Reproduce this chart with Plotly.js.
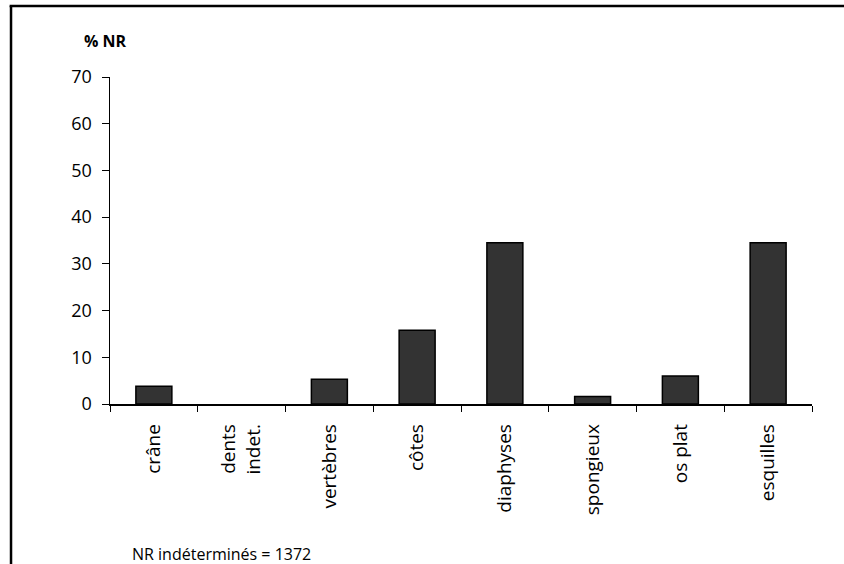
<!DOCTYPE html>
<html>
<head>
<meta charset="utf-8">
<script src="https://cdn.plot.ly/plotly-3.0.1.min.js"></script>
<style>
html,body{margin:0;padding:0;background:#fff;}
#chart{width:844px;height:564px;}
</style>
</head>
<body>
<div id="chart"></div>
<script>
const categories = ["crâne", "dents<br>indet.", "vertèbres", "côtes", "diaphyses", "spongieux", "os plat", "esquilles"];
const percentNR = [3.8, 0, 5.3, 15.8, 34.5, 1.6, 6.0, 34.5];
const yTicks = [0, 10, 20, 30, 40, 50, 60, 70];
const yLabel = "% NR";
const footnote = "NR indéterminés = 1372";

const FONT = "Open Sans, Lato, sans-serif";

const trace = {
  type: "bar",
  x: categories,
  y: percentNR,
  marker: {
    color: "#333333",
    line: { color: "#000000", width: percentNR.map(v => v > 0 ? 1.5 : 0) }
  },
  hoverinfo: "x+y"
};

const layout = {
  width: 844,
  height: 564,
  margin: { l: 110, r: 32, t: 77, b: 160 },
  paper_bgcolor: "#ffffff",
  plot_bgcolor: "#ffffff",
  showlegend: false,
  bargap: 0.59,
  font: { family: FONT, color: "#000000", size: 16 },
  xaxis: {
    type: "category",
    showline: true,
    linecolor: "#000000",
    linewidth: 1.5,
    ticks: "outside",
    tickson: "boundaries",
    ticklen: 6,
    tickcolor: "#000000",
    tickwidth: 1,
    tickangle: -90,
    ticklabelstandoff: 11,
    tickfont: { family: FONT, size: 19, color: "#000000" },
    showgrid: false,
    zeroline: false
  },
  yaxis: {
    range: [0, 70],
    tickvals: yTicks,
    ticktext: yTicks.map(String),
    showline: true,
    linecolor: "#000000",
    linewidth: 1.5,
    ticks: "outside",
    ticklen: 7,
    tickcolor: "#000000",
    tickwidth: 1,
    ticklabelstandoff: 6,
    tickfont: { family: FONT, size: 18, color: "#000000" },
    showgrid: false,
    zeroline: false
  },
  annotations: [
    {
      text: "<b>" + yLabel + "</b>",
      xref: "paper", yref: "paper",
      x: -0.007, y: 1.11,
      xanchor: "center", yanchor: "middle",
      showarrow: false,
      font: { family: FONT, size: 16, color: "#000000" }
    },
    {
      text: footnote,
      xref: "paper", yref: "paper",
      x: 0.159, y: -0.459,
      xanchor: "center", yanchor: "middle",
      showarrow: false,
      font: { family: FONT, size: 16, color: "#000000" }
    }
  ],
  shapes: [
    { type: "line", xref: "paper", yref: "paper", x0: -0.141, x1: -0.141, y0: 1.217, y1: -0.5, line: { color: "#000000", width: 2.5 } },
    { type: "line", xref: "paper", yref: "paper", x0: -0.143, x1: 1.1, y0: 1.217, y1: 1.217, line: { color: "#000000", width: 2.5 } }
  ]
};

Plotly.newPlot("chart", [trace], layout, { displayModeBar: false, staticPlot: true });
</script>
</body>
</html>
